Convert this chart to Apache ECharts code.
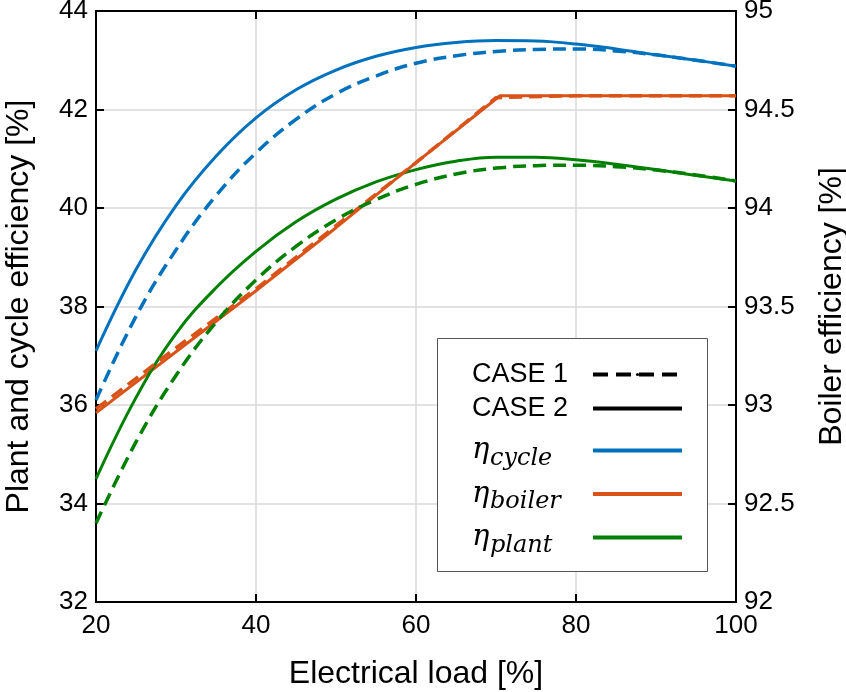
<!DOCTYPE html>
<html>
<head>
<meta charset="utf-8">
<script src="https://cdn.jsdelivr.net/npm/echarts@6/dist/echarts.min.js"></script>
<style>
  html, body { margin: 0; padding: 0; background: #fff; }
  #chart { width: 846px; height: 692px; }
</style>
</head>
<body>
<div id="chart"></div>
<script>
// electrical load [%]
const loads = [20, 25, 30, 35, 40, 45, 50, 55, 60, 65, 70, 75, 80, 85, 90, 95, 100]
const cycleCase1 = [36.1, 37.8, 39.15, 40.25, 41.12, 41.8, 42.32, 42.68, 42.94, 43.09, 43.18, 43.22, 43.23, 43.19, 43.11, 43.0, 42.88]
const cycleCase2 = [37.1, 38.75, 40.05, 41.05, 41.83, 42.4, 42.8, 43.08, 43.26, 43.36, 43.4, 43.39, 43.33, 43.23, 43.11, 43.0, 42.88]
const plantCase1 = [33.6, 35.25, 36.6, 37.68, 38.54, 39.22, 39.76, 40.17, 40.48, 40.69, 40.81, 40.86, 40.87, 40.84, 40.77, 40.67, 40.55]
const plantCase2 = [34.5, 36.15, 37.45, 38.38, 39.12, 39.72, 40.18, 40.53, 40.78, 40.95, 41.03, 41.03, 40.98, 40.89, 40.78, 40.66, 40.55]
// boiler efficiency (right axis)
const boilerLoads1 = [20, 30, 40, 50, 60, 70, 80, 90, 100]
const boilerCase1 = [92.98, 93.29, 93.59, 93.91, 94.23, 94.56, 94.57, 94.57, 94.57]
const boilerLoads2 = [20, 30, 40, 50, 60, 70.5, 80, 90, 100]
const boilerCase2 = [92.96, 93.27, 93.58, 93.9, 94.23, 94.57, 94.57, 94.57, 94.57]

const blue = '#0072BD'
const orange = '#D95319'
const green = '#008000'
const font = 'Liberation Sans, Arial, sans-serif'
const dash = [13, 7]

const pairs = (xs, ys) => xs.map((x, i) => [x, ys[i]])

const chart = echarts.init(document.getElementById('chart'))

const lineSeries = (name, data, color, dashed, yIndex, smooth) => ({
  name: name,
  type: 'line',
  yAxisIndex: yIndex,
  data: data,
  smooth: smooth,
  symbol: 'none',
  silent: true,
  z: dashed ? 4 : 3,
  lineStyle: { color: color, width: dashed ? 3.5 : 3, type: dashed ? dash : 'solid' }
})

const dummy = (name, color, dashed) => ({
  name: name,
  type: 'line',
  data: [],
  symbol: 'none',
  color: color,
  lineStyle: { color: color, width: 4, type: dashed ? [15, 8] : 'solid' }
})

const rich = {
  c: { fontFamily: font, fontSize: 27, color: '#000', width: 116, lineHeight: 30, align: 'left' },
  e: { fontFamily: 'DejaVu Serif, serif', fontStyle: 'italic', fontSize: 29, color: '#000', width: 18, lineHeight: 30, align: 'left' },
  s: { fontFamily: 'DejaVu Serif, serif', fontStyle: 'italic', fontSize: 24, color: '#000', width: 98, lineHeight: 40, verticalAlign: 'bottom', align: 'left' }
}

const legendBase = {
  orient: 'vertical',
  align: 'right',
  left: 472,
  padding: 0,
  itemWidth: 89,
  itemHeight: 4,
  selectedMode: false,
  z: 10,
  lineStyle: { width: 4 },
  itemStyle: { borderWidth: 0 },
  textStyle: { rich: rich }
}

const option = {
  animation: false,
  backgroundColor: '#fff',
  grid: { left: 96, right: 110, top: 11, bottom: 90, outerBoundsMode: 'none' },
  legend: [
    Object.assign({}, legendBase, {
      data: ['CASE 1', 'CASE 2'],
      top: 361,
      itemGap: 7,
      formatter: (n) => '{c|' + n + '}'
    }),
    Object.assign({}, legendBase, {
      data: ['cycle', 'boiler', 'plant'],
      top: 436,
      itemGap: 9,
      formatter: (n) => '{e|η}{s|' + n + '}'
    })
  ],
  graphic: [
    {
      type: 'rect',
      left: 437,
      top: 338,
      shape: { width: 270, height: 233 },
      style: { fill: '#fff', stroke: '#555', lineWidth: 1 },
      z: 2,
      silent: true
    }
  ],
  xAxis: [
    {
      type: 'value',
      min: 20,
      max: 100,
      interval: 20,
      name: 'Electrical load [%]',
      nameLocation: 'middle',
      nameGap: 56,
      nameTextStyle: { fontFamily: font, fontSize: 32, color: '#000' },
      axisLine: { lineStyle: { color: '#000', width: 2 } },
      axisTick: { inside: true, length: 8, lineStyle: { color: '#000', width: 2 } },
      axisLabel: { fontFamily: font, fontSize: 26, color: '#000', margin: 11 },
      splitLine: { show: true, lineStyle: { color: '#d9d9d9', width: 1.5 } }
    },
    {
      type: 'value',
      position: 'top',
      min: 20,
      max: 100,
      interval: 20,
      axisLine: { lineStyle: { color: '#000', width: 2 } },
      axisTick: { inside: true, length: 8, lineStyle: { color: '#000', width: 2 } },
      axisLabel: { show: false },
      splitLine: { show: false }
    }
  ],
  yAxis: [
    {
      type: 'value',
      min: 32,
      max: 44,
      interval: 2,
      name: 'Plant and cycle efficiency [%]',
      nameLocation: 'middle',
      nameGap: 61,
      nameTextStyle: { fontFamily: font, fontSize: 32, color: '#000' },
      axisLine: { show: true, lineStyle: { color: '#000', width: 2 } },
      axisTick: { show: true, inside: true, length: 8, lineStyle: { color: '#000', width: 2 } },
      axisLabel: { fontFamily: font, fontSize: 26, color: '#000', margin: 8 },
      splitLine: { show: true, lineStyle: { color: '#d9d9d9', width: 1.5 } }
    },
    {
      type: 'value',
      position: 'right',
      min: 92,
      max: 95,
      interval: 0.5,
      name: 'Boiler efficiency [%]',
      nameLocation: 'middle',
      nameGap: 80,
      nameRotate: 90,
      nameTextStyle: { fontFamily: font, fontSize: 32, color: '#000' },
      axisLine: { show: true, lineStyle: { color: '#000', width: 2 } },
      axisTick: { show: true, inside: true, length: 8, lineStyle: { color: '#000', width: 2 } },
      axisLabel: { fontFamily: font, fontSize: 26, color: '#000', margin: 8 },
      splitLine: { show: false }
    }
  ],
  series: [
    lineSeries('c2cycle', pairs(loads, cycleCase2), blue, false, 0, 0.4),
    lineSeries('c2boiler', pairs(boilerLoads2, boilerCase2), orange, false, 1, false),
    lineSeries('c2plant', pairs(loads, plantCase2), green, false, 0, 0.4),
    lineSeries('c1cycle', pairs(loads, cycleCase1), blue, true, 0, 0.4),
    lineSeries('c1boiler', pairs(boilerLoads1, boilerCase1), orange, true, 1, false),
    lineSeries('c1plant', pairs(loads, plantCase1), green, true, 0, 0.4),
    dummy('CASE 1', '#000', true),
    dummy('CASE 2', '#000', false),
    dummy('cycle', blue, false),
    dummy('boiler', orange, false),
    dummy('plant', green, false)
  ]
}

chart.setOption(option)
</script>
</body>
</html>
